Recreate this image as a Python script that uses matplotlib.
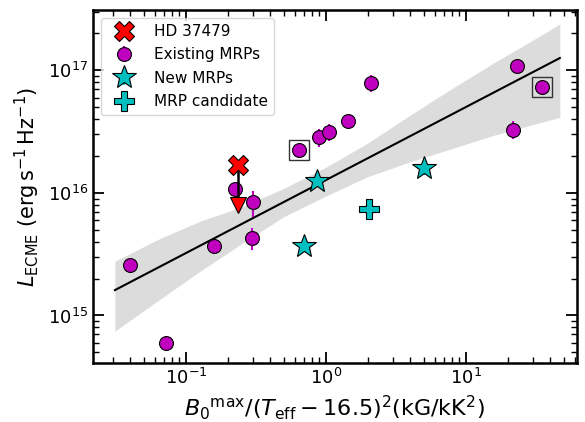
import matplotlib
matplotlib.use("Agg")
import matplotlib.pyplot as plt

# Existing MRPs
mrp_x = [0.0398, 0.072, 0.159, 0.226, 0.303, 0.299, 0.641, 0.891, 1.056, 1.443, 2.096, 21.8, 23.0, 35.1]
mrp_y = [2.56e15, 6.0e14, 3.69e15, 1.08e16, 8.38e15, 4.29e15, 2.23e16, 2.85e16, 3.15e16, 3.85e16, 7.92e16, 3.29e16, 1.08e17, 7.29e16]
mrp_err = [0.2e15, 0.05e15, 0.5e15, 0.1e16, 2.0e15, 0.9e15, 0.2e16, 0.5e16, 0.5e16, 0.3e16, 1.2e16, 0.55e16, 1.4e16, 0.8e16]
boxed = [6, 13]

# New MRPs
new_x = [0.867, 5.01, 0.697]
new_y = [1.26e16, 1.6e16, 3.66e15]
new_err = [0.1e16, 0.2e16, 0.2e15]

# MRP candidate
cand_x = [2.04]
cand_y = [7.4e15]

# HD 37479 (upper limit)
hd_x = 0.236
hd_y = 1.70e16
hd_lim = 8.0e15

# fit line and its confidence band
fit_x = [0.0311, 46.9]
fit_y = [1.61e15, 1.26e17]
band_x = [0.0311, 0.0631, 0.126, 0.251, 0.501, 1.0, 2.0, 3.98, 7.94, 15.8, 28.2, 46.9]
band_hi = [2.77e15, 4.17e15, 5.87e15, 7.71e15, 1.09e16, 1.62e16, 2.56e16, 4.30e16, 7.10e16, 1.15e17, 1.69e17, 2.39e17]
band_lo = [7.45e14, 1.32e15, 2.29e15, 3.86e15, 6.40e15, 9.44e15, 1.36e16, 1.79e16, 2.30e16, 2.95e16, 3.54e16, 4.13e16]

fig = plt.figure(figsize=(5.85, 4.22), dpi=100)
ax = fig.add_axes([0.159, 0.140, 0.827, 0.836])

ax.fill_between(band_x, band_lo, band_hi, color="gainsboro", lw=0, zorder=1)
ax.plot(fit_x, fit_y, color="k", lw=1.5, zorder=2)

# upper limit arrow for HD 37479
ax.plot([hd_x, hd_x], [hd_y, hd_lim], color="k", lw=1.8, zorder=5)
ax.plot(hd_x, hd_lim, marker="v", ms=11, mfc="r", mec="k", mew=0.8, ls="none", zorder=5)
ax.plot(hd_x, hd_y, marker="X", ms=14, mfc="r", mec="k", mew=0.8, ls="none",
        zorder=6, label="HD 37479")

ax.errorbar(mrp_x, mrp_y, yerr=mrp_err, fmt="o", ms=10, mfc="m", mec="k", mew=0.8,
            ecolor="m", elinewidth=1.5, capsize=0, zorder=4, label="Existing MRPs")
ax.plot([mrp_x[i] for i in boxed], [mrp_y[i] for i in boxed], marker="s", ms=15,
        mfc="none", mec="0.2", mew=1.0, ls="none", zorder=3)

ax.errorbar(new_x, new_y, yerr=new_err, fmt="*", ms=18, mfc="c", mec="k", mew=0.8,
            ecolor="c", elinewidth=1.5, capsize=0, zorder=4, label="New MRPs")
ax.plot(cand_x, cand_y, marker="P", ms=14, mfc="c", mec="k", mew=0.8, ls="none",
        zorder=4, label="MRP candidate")

ax.set_xscale("log")
ax.set_yscale("log")
ax.set_xlim(0.0217, 62)
ax.set_ylim(4.1e14, 3.1e17)

ax.tick_params(which="both", direction="in", top=True, right=True, labelsize=13)
ax.tick_params(which="major", length=8, width=1.3)
ax.tick_params(which="minor", length=4, width=1.0)
for s in ax.spines.values():
    s.set_linewidth(1.8)

ax.set_xlabel(r"$B_0{}^{\rm max}/(T_{\rm eff}-16.5)^2 ({\rm kG/kK^2})$", fontsize=16)
ax.set_ylabel(r"$L_{\rm ECME}$ (erg$\,$s$^{-1}\,$Hz$^{-1}$)", fontsize=15)

handles, labels = ax.get_legend_handles_labels()
order = [labels.index(n) for n in ["HD 37479", "Existing MRPs", "New MRPs", "MRP candidate"]]
ax.legend([handles[i] for i in order], [labels[i] for i in order], loc="upper left",
          fontsize=11, handlelength=2.2, handletextpad=0.9, borderpad=0.4,
          labelspacing=0.55, borderaxespad=0.5)

fig.savefig("out.png", dpi=100)
